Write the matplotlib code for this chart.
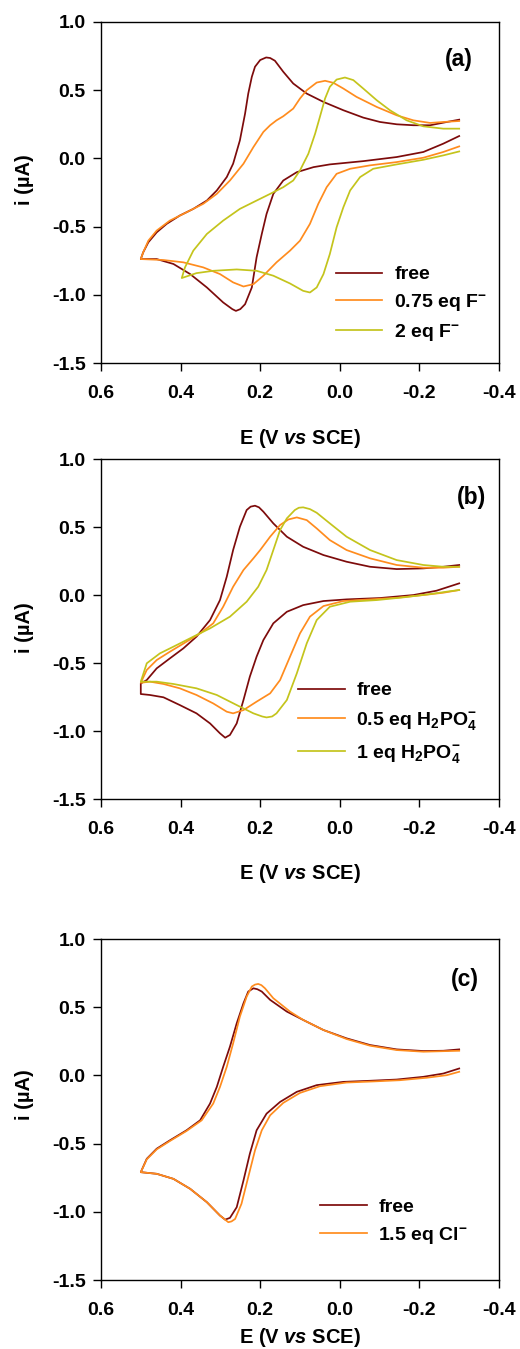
import matplotlib
matplotlib.use("Agg")
import matplotlib.pyplot as plt

plt.rcParams['font.family'] = ['Liberation Sans', 'DejaVu Sans']
plt.rcParams['font.weight'] = 'bold'
plt.rcParams['mathtext.fontset'] = 'custom'
plt.rcParams['mathtext.default'] = 'regular'
plt.rcParams['mathtext.it'] = 'Liberation Sans:italic:bold'
plt.rcParams['mathtext.rm'] = 'Liberation Sans:bold'

FREE = '#7d0b0b'
ORANGE = '#ff8c1e'
GREEN = '#c4c41c'

# ---- panel (a): F- titration (loop: reverse scan from -0.3 to 0.5, then forward to -0.3)
E_a_free = [-0.300, -0.269, -0.227, -0.185, -0.143, -0.101, -0.059, -0.009, 0.041, 0.083, 0.117, 0.142, 0.163,
            0.175, 0.185, 0.200, 0.213, 0.221, 0.230, 0.238, 0.251, 0.268, 0.284, 0.309, 0.334, 0.368, 0.402, 0.435,
            0.460, 0.481, 0.494, 0.500,
            0.460, 0.418, 0.376, 0.334, 0.293, 0.270, 0.261, 0.250, 0.238, 0.221, 0.209, 0.196, 0.184, 0.167, 0.142,
            0.108, 0.066, 0.025, -0.059, -0.143, -0.210, -0.260, -0.300]
i_a_free = [0.284, 0.267, 0.243, 0.243, 0.250, 0.267, 0.299, 0.353, 0.414, 0.475, 0.549, 0.635, 0.716,
            0.736, 0.740, 0.721, 0.672, 0.598, 0.475, 0.328, 0.132, -0.039, -0.137, -0.235, -0.309, -0.370, -0.419,
            -0.480, -0.542, -0.615, -0.689, -0.738,
            -0.738, -0.774, -0.848, -0.946, -1.056, -1.105, -1.118, -1.105, -1.069, -0.946, -0.725, -0.554, -0.407,
            -0.260, -0.162, -0.101, -0.064, -0.044, -0.020, 0.010, 0.047, 0.108, 0.164]

E_a_f075 = [-0.300, -0.260, -0.227, -0.185, -0.143, -0.093, -0.042, -0.009, 0.016, 0.037, 0.058, 0.083, 0.100,
            0.117, 0.142, 0.159, 0.175, 0.192, 0.217, 0.242, 0.276, 0.309, 0.343, 0.385, 0.427, 0.460, 0.481,
            0.494, 0.500,
            0.443, 0.393, 0.343, 0.301, 0.268, 0.242, 0.217, 0.192, 0.159, 0.125, 0.100, 0.075, 0.054, 0.033,
            0.008, -0.026, -0.076, -0.143, -0.210, -0.260, -0.300]
i_a_f075 = [0.274, 0.267, 0.260, 0.279, 0.316, 0.377, 0.451, 0.512, 0.554, 0.569, 0.556, 0.500, 0.439,
            0.365, 0.309, 0.279, 0.243, 0.194, 0.083, -0.039, -0.162, -0.260, -0.333, -0.395, -0.456, -0.529, -0.603,
            -0.689, -0.738,
            -0.745, -0.762, -0.799, -0.848, -0.909, -0.939, -0.922, -0.860, -0.762, -0.676, -0.603, -0.480, -0.333, -0.211,
            -0.113, -0.076, -0.051, -0.027, 0.005, 0.047, 0.088]

E_a_f2 = [-0.300, -0.260, -0.210, -0.168, -0.126, -0.093, -0.059, -0.034, -0.013, 0.008, 0.025, 0.037, 0.050,
          0.062, 0.079, 0.100, 0.117, 0.142, 0.175, 0.209, 0.251, 0.293, 0.334, 0.368, 0.389, 0.397,
          0.360, 0.318, 0.259, 0.209, 0.167, 0.125, 0.092, 0.075, 0.058, 0.041, 0.025, 0.008, -0.009,
          -0.026, -0.051, -0.084, -0.143, -0.210, -0.260, -0.300]
i_a_f2 = [0.218, 0.218, 0.235, 0.279, 0.353, 0.426, 0.512, 0.574, 0.593, 0.578, 0.525, 0.439, 0.304,
          0.181, 0.034, -0.088, -0.162, -0.211, -0.260, -0.309, -0.370, -0.456, -0.554, -0.676, -0.799, -0.877,
          -0.841, -0.824, -0.814, -0.824, -0.860, -0.917, -0.971, -0.983, -0.946, -0.848, -0.701, -0.505, -0.358,
          -0.235, -0.137, -0.076, -0.044, -0.010, 0.022, 0.051]

# ---- panel (b): H2PO4- titration
E_b_free = [-0.300, -0.260, -0.210, -0.143, -0.076, -0.017, 0.041, 0.092, 0.133, 0.167, 0.192, 0.203, 0.213,
            0.224, 0.234, 0.251, 0.268, 0.284, 0.301, 0.326, 0.360, 0.393, 0.427, 0.460, 0.485, 0.500,
            0.500, 0.477, 0.443, 0.402, 0.360, 0.326, 0.301, 0.288, 0.276, 0.259, 0.242, 0.226, 0.209, 0.192,
            0.167, 0.133, 0.092, 0.041, -0.017, -0.101, -0.185, -0.243, -0.300]
i_b_free = [0.221, 0.208, 0.196, 0.191, 0.208, 0.245, 0.294, 0.355, 0.429, 0.527, 0.613, 0.645, 0.657,
            0.650, 0.625, 0.502, 0.331, 0.135, -0.037, -0.184, -0.306, -0.392, -0.466, -0.539, -0.625, -0.650,
            -0.728, -0.735, -0.752, -0.809, -0.870, -0.944, -1.017, -1.049, -1.029, -0.944, -0.772, -0.600, -0.453,
            -0.331, -0.208, -0.123, -0.074, -0.044, -0.032, -0.022, 0.000, 0.032, 0.086]

E_b_h05 = [-0.300, -0.260, -0.210, -0.143, -0.076, -0.017, 0.025, 0.058, 0.083, 0.108, 0.129, 0.150, 0.175,
           0.200, 0.217, 0.242, 0.268, 0.293, 0.318, 0.351, 0.385, 0.427, 0.460, 0.485, 0.500,
           0.477, 0.443, 0.402, 0.360, 0.318, 0.284, 0.268, 0.242, 0.209, 0.175, 0.150, 0.125, 0.100, 0.075,
           0.041, -0.009, -0.076, -0.143, -0.210, -0.260, -0.300]
i_b_h05 = [0.208, 0.201, 0.201, 0.221, 0.270, 0.331, 0.404, 0.490, 0.551, 0.571, 0.556, 0.515, 0.429,
           0.331, 0.270, 0.184, 0.061, -0.086, -0.208, -0.282, -0.343, -0.417, -0.478, -0.551, -0.645,
           -0.637, -0.654, -0.686, -0.735, -0.797, -0.858, -0.870, -0.846, -0.784, -0.723, -0.625, -0.453, -0.282, -0.159,
           -0.081, -0.044, -0.032, -0.020, 0.000, 0.017, 0.037]

E_b_h1 = [-0.300, -0.260, -0.210, -0.143, -0.076, -0.017, 0.025, 0.058, 0.075, 0.092, 0.103, 0.113, 0.133, 0.150,
          0.167, 0.184, 0.205, 0.234, 0.276, 0.326, 0.368, 0.410, 0.452, 0.485, 0.500,
          0.460, 0.418, 0.360, 0.309, 0.259, 0.217, 0.195, 0.184, 0.170, 0.159, 0.133, 0.108, 0.083, 0.058, 0.025,
          -0.026, -0.093, -0.160, -0.227, -0.269, -0.300]
i_b_h1 = [0.208, 0.208, 0.221, 0.257, 0.331, 0.429, 0.527, 0.605, 0.632, 0.645, 0.642, 0.625, 0.564, 0.478,
          0.331, 0.184, 0.061, -0.049, -0.159, -0.245, -0.306, -0.368, -0.429, -0.502, -0.637,
          -0.637, -0.654, -0.686, -0.735, -0.809, -0.870, -0.893, -0.900, -0.893, -0.870, -0.772, -0.576, -0.355,
          -0.184, -0.086, -0.049, -0.037, -0.017, 0.007, 0.025, 0.037]

# ---- panel (c): Cl- titration
E_c_free = [-0.300, -0.260, -0.210, -0.143, -0.076, -0.017, 0.041, 0.092, 0.133, 0.175, 0.196, 0.207, 0.217, 0.230,
            0.242, 0.259, 0.276, 0.293, 0.309, 0.326, 0.351, 0.385, 0.427, 0.460, 0.485, 0.500,
            0.460, 0.418, 0.376, 0.334, 0.301, 0.288, 0.276, 0.259, 0.242, 0.226, 0.209, 0.184, 0.150, 0.108,
            0.058, -0.009, -0.076, -0.143, -0.210, -0.260, -0.300]
i_c_free = [0.191, 0.181, 0.179, 0.191, 0.223, 0.272, 0.333, 0.407, 0.468, 0.554, 0.615, 0.632, 0.639, 0.615,
            0.529, 0.382, 0.211, 0.063, -0.084, -0.206, -0.329, -0.402, -0.476, -0.537, -0.611, -0.709,
            -0.721, -0.758, -0.831, -0.929, -1.027, -1.057, -1.044, -0.966, -0.770, -0.574, -0.402, -0.280, -0.194,
            -0.120, -0.071, -0.047, -0.039, -0.030, -0.010, 0.014, 0.051]

E_c_cl = [-0.300, -0.210, -0.143, -0.076, -0.017, 0.041, 0.092, 0.125, 0.167, 0.188, 0.197, 0.205, 0.213, 0.221,
          0.234, 0.251, 0.268, 0.284, 0.301, 0.318, 0.347, 0.385, 0.427, 0.460, 0.485, 0.500,
          0.460, 0.418, 0.376, 0.334, 0.301, 0.280, 0.272, 0.263, 0.247, 0.230, 0.213, 0.196, 0.175, 0.142, 0.100,
          0.050, -0.017, -0.084, -0.151, -0.218, -0.269, -0.300]
i_c_cl = [0.181, 0.174, 0.186, 0.218, 0.267, 0.333, 0.407, 0.468, 0.566, 0.639, 0.662, 0.671, 0.666, 0.652,
          0.578, 0.431, 0.235, 0.063, -0.084, -0.206, -0.329, -0.407, -0.481, -0.542, -0.615, -0.709,
          -0.721, -0.758, -0.831, -0.929, -1.027, -1.076, -1.070, -1.052, -0.941, -0.745, -0.549, -0.402, -0.292,
          -0.201, -0.128, -0.079, -0.052, -0.044, -0.035, -0.017, 0.002, 0.027]

x_ticks = [0.6, 0.4, 0.2, 0.0, -0.2, -0.4]
y_ticks = [1.0, 0.5, 0.0, -0.5, -1.0, -1.5]

fig = plt.figure(figsize=(5.2, 13.49), dpi=100)

# axes rectangles in figure fraction
ax_a = fig.add_axes([0.1942, 0.7309, 0.7654, 0.2528])
ax_b = fig.add_axes([0.1942, 0.4077, 0.7654, 0.2520])
ax_c = fig.add_axes([0.1942, 0.0511, 0.7654, 0.2528])


def setup(ax, tag, tag_xy, xlab_y, ylab_y):
    ax.set_xlim(0.6, -0.4)
    ax.set_ylim(-1.5, 1.0)
    ax.set_xticks(x_ticks)
    ax.set_yticks(y_ticks)
    ax.set_xticklabels(['%.1f' % v for v in x_ticks])
    ax.set_yticklabels(['%.1f' % v for v in y_ticks])
    ax.tick_params(direction='out', length=6, width=1, labelsize=14)
    ax.tick_params(axis='x', pad=10)
    ax.tick_params(axis='y', pad=5)
    for s in ax.spines.values():
        s.set_linewidth(1.0)
    ax.set_xlabel(r'E (V $\it{vs}$ SCE)', fontsize=14.5, fontweight='bold')
    ax.set_ylabel('i (\u00b5A)', fontsize=14.5, fontweight='bold')
    ax.xaxis.set_label_coords(0.5, xlab_y)
    ax.yaxis.set_label_coords(-0.193, ylab_y)
    ax.xaxis.label.set_va('center')
    ax.yaxis.label.set_va('center')
    ax.text(tag_xy[0], tag_xy[1], tag, transform=ax.transAxes, fontsize=16.5,
            fontweight='bold', ha='center', va='center')


lw = 1.25
leg_kw = dict(loc='upper left', frameon=False, fontsize=14, handlelength=2.4, handletextpad=0.6,
              borderpad=0, borderaxespad=0)

ax_a.plot(E_a_free, i_a_free, color=FREE, lw=lw, label='free')
ax_a.plot(E_a_f075, i_a_f075, color=ORANGE, lw=lw, label=r'0.75 eq F$^{-}$')
ax_a.plot(E_a_f2, i_a_f2, color=GREEN, lw=lw, label=r'2 eq F$^{-}$')
setup(ax_a, '(a)', (0.9, 0.889), -0.22, 0.537)
ax_a.legend(bbox_to_anchor=(0.59, 0.285), labelspacing=0.45, **leg_kw)

ax_b.plot(E_b_free, i_b_free, color=FREE, lw=lw, label='free')
ax_b.plot(E_b_h05, i_b_h05, color=ORANGE, lw=lw, label=r'0.5 eq H$_2$PO$_4^{-}$')
ax_b.plot(E_b_h1, i_b_h1, color=GREEN, lw=lw, label=r'1 eq H$_2$PO$_4^{-}$')
setup(ax_b, '(b)', (0.93, 0.887), -0.218, 0.503)
ax_b.legend(bbox_to_anchor=(0.495, 0.345), labelspacing=0.55, **leg_kw)

ax_c.plot(E_c_free, i_c_free, color=FREE, lw=lw, label='free')
ax_c.plot(E_c_cl, i_c_cl, color=ORANGE, lw=lw, label=r'1.5 eq Cl$^{-}$')
setup(ax_c, '(c)', (0.915, 0.88), -0.167, 0.543)
ax_c.legend(bbox_to_anchor=(0.55, 0.24), labelspacing=0.45, **leg_kw)

fig.savefig('out.png', dpi=100)
